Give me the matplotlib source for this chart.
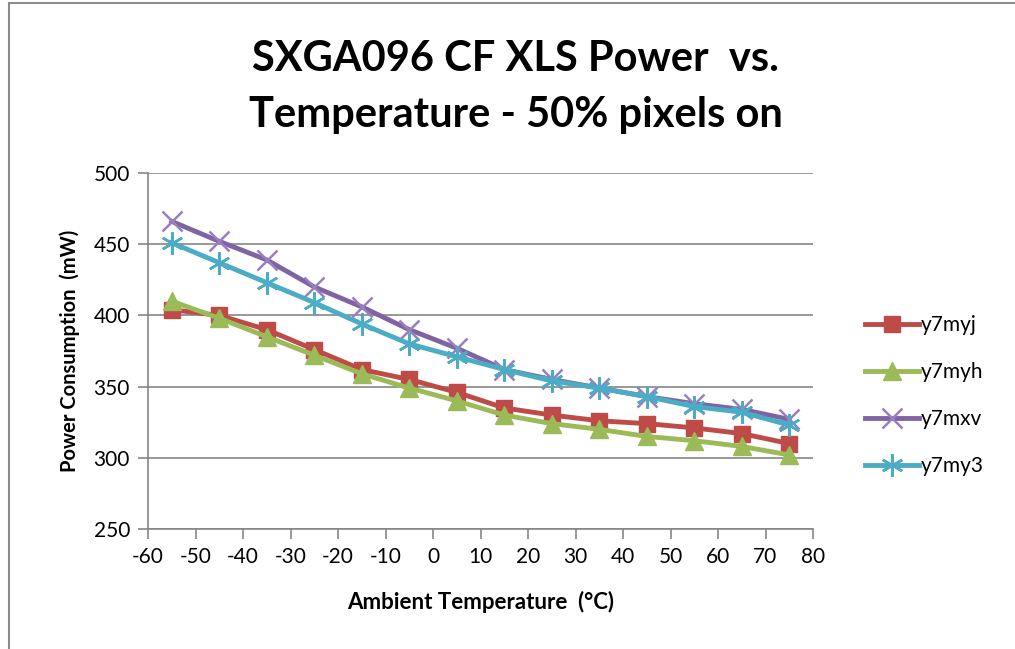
import numpy as np
import matplotlib.pyplot as plt
from matplotlib.patches import Rectangle

# dados
temp = [-55, -45, -35, -25, -15, -5, 5, 15, 25, 35, 45, 55, 65, 75]
y7myj = [404, 400, 390, 376, 362, 355, 346, 335, 330, 326, 324, 321, 317, 310]
y7myh = [410, 398, 385, 372, 359, 349, 340, 330, 324, 320, 315, 312, 308, 302]
y7mxv = [466, 452, 439, 420, 406, 390, 377, 362, 355, 349, 343, 338, 334, 327]
y7my3 = [451, 437, 423, 409, 394, 380, 371, 362, 354, 349, 343, 336, 332, 323]

plt.rcParams['font.family'] = ['Lato', 'DejaVu Sans']
plt.rcParams['axes.unicode_minus'] = False

fig = plt.figure(figsize=(10.15, 6.49), dpi=100)
fig.patches.append(Rectangle((9/1015, -0.1), 1.2, 1 - 3/649 + 0.1,
                             transform=fig.transFigure, fill=False,
                             edgecolor='#8c8c8c', linewidth=1.5))
ax = fig.add_axes([148/1015, 1 - 529/649, 665/1015, 356/649])

ax.plot(temp, y7myj, color='#BE4B48', lw=3.5, marker='s', ms=12,
        label='y7myj')
ax.plot(temp, y7myh, color='#9BBB59', lw=3.5, marker='^', ms=13,
        label='y7myh')
ax.plot(temp, y7mxv, color='#8064A2', lw=3.5, marker='x', ms=15,
        mew=1.8, mec='#9A7FC0', label='y7mxv')
ax.plot(temp, y7my3, color='#4BACC6', lw=3.5, marker=(6, 2, 0), ms=16,
        mew=1.8, mec='#4BACC6', label='y7my3')

ax.set_xlim(-60, 80)
ax.set_ylim(250, 500)
ax.set_xticks(np.arange(-60, 81, 10))
ax.set_yticks(np.arange(250, 501, 50))
ax.grid(axis='y', color='#868686', lw=1.2)
ax.set_axisbelow(True)
for s in ['top', 'right']:
    ax.spines[s].set_visible(False)
for s in ['left', 'bottom']:
    ax.spines[s].set_color('#868686')
    ax.spines[s].set_linewidth(1.2)
ax.tick_params(colors='#868686', labelcolor='black', labelsize=15,
               length=7, width=1.2, pad=6)

ax.set_xlabel('Ambient Temperature  (°C)', fontsize=16, fontweight='bold',
              labelpad=17)
ax.set_ylabel('Power Consumption  (mW)', fontsize=14.5, fontweight='bold',
              labelpad=10)

fig.text(0.508, 0.866, 'SXGA096 CF XLS Power  vs.\nTemperature - 50% pixels on',
         ha='center', va='center', fontsize=30, fontweight='bold',
         linespacing=1.6)

ax.legend(loc='center left', bbox_to_anchor=(1.05, 0.374), frameon=False,
          fontsize=15, handlelength=2.6, labelspacing=1.3, handletextpad=0.1)

fig.savefig('out.png', dpi=100)
